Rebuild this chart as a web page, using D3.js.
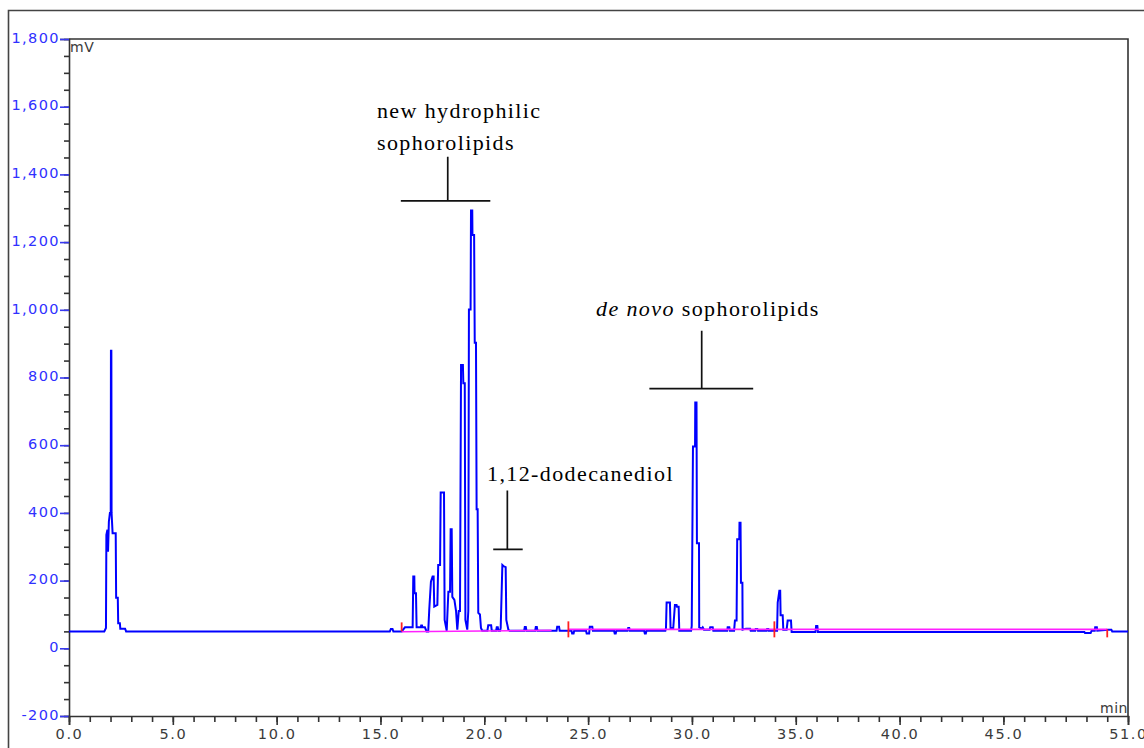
<!DOCTYPE html>
<html>
<head>
<meta charset="utf-8">
<script src="https://cdn.jsdelivr.net/npm/d3@7"></script>
<style>
  html, body { margin: 0; padding: 0; background: #fff; }
  svg { display: block; }
</style>
</head>
<body>
<svg id="chart" width="1144" height="748"></svg>
<script>
// chromatogram trace: [time (min), signal (mV)]
const trace = [
  [0, 50], [1.70, 50], [1.78, 60], [1.80, 335], [1.85, 350], [1.88, 285], [1.92, 374], [1.97, 400],
  [2.01, 400], [2.02, 879], [2.04, 879], [2.05, 400], [2.10, 340], [2.25, 340], [2.27, 149], [2.35, 149],
  [2.37, 74], [2.45, 74], [2.47, 58], [2.70, 58], [2.75, 50],
  [15.45, 50], [15.50, 57], [15.58, 57], [15.62, 50],
  [16.02, 50], [16.18, 62], [16.55, 62], [16.58, 212], [16.63, 212], [16.64, 163], [16.71, 163], [16.74, 62],
  [16.94, 62], [16.96, 67], [17.00, 67], [17.02, 62], [17.14, 62], [17.22, 50], [17.30, 50], [17.35, 115],
  [17.43, 197], [17.51, 212], [17.56, 212], [17.59, 123], [17.74, 128], [17.78, 246], [17.87, 246],
  [17.90, 460], [18.06, 460], [18.09, 84], [18.19, 52], [18.27, 167], [18.35, 167], [18.38, 352],
  [18.43, 352], [18.46, 152], [18.56, 143], [18.64, 110], [18.70, 55], [18.77, 110], [18.83, 110],
  [18.88, 837], [18.97, 837], [18.99, 783], [19.06, 783], [19.09, 84], [19.18, 55], [19.23, 110],
  [19.26, 1001], [19.34, 1001], [19.36, 1293], [19.42, 1293], [19.43, 1221], [19.51, 1221], [19.54, 903],
  [19.60, 903], [19.63, 411], [19.68, 411], [19.71, 105], [19.79, 100], [19.84, 60], [19.90, 52],
  [20.15, 52], [20.19, 68], [20.33, 68], [20.36, 52], [20.57, 52], [20.60, 62], [20.65, 62], [20.68, 52],
  [20.76, 52], [20.79, 60], [20.87, 246], [20.92, 243], [21.03, 240], [21.06, 84], [21.16, 55], [21.22, 52],
  [21.92, 52], [21.95, 63], [22.00, 63], [22.03, 52], [22.45, 52], [22.48, 63], [22.53, 63], [22.56, 52],
  [23.48, 52], [23.51, 64], [23.60, 64], [23.63, 52],
  [24.20, 52], [24.23, 44], [24.30, 44], [24.33, 52], [24.90, 52], [24.93, 44], [25.05, 44], [25.08, 64],
  [25.20, 64], [25.23, 52], [26.25, 52], [26.28, 44], [26.33, 44], [26.36, 52], [26.90, 52], [26.93, 60],
  [26.98, 60], [27.01, 52], [27.70, 52], [27.73, 44], [27.78, 44], [27.81, 52],
  [28.72, 52], [28.75, 60], [28.78, 135], [28.94, 135], [28.97, 60], [29.10, 60], [29.18, 128], [29.26, 128],
  [29.28, 123], [29.36, 123], [29.39, 52], [29.96, 52], [29.99, 66], [30.05, 596], [30.15, 596],
  [30.16, 726], [30.22, 726], [30.24, 310], [30.34, 310], [30.35, 62], [30.47, 58], [30.52, 62], [30.58, 55],
  [30.85, 55], [30.88, 62], [31.00, 62], [31.03, 52], [31.70, 52], [31.72, 62], [31.80, 62], [31.83, 52],
  [32.03, 52], [32.07, 82], [32.15, 82], [32.18, 322], [32.28, 322], [32.29, 371], [32.34, 371],
  [32.36, 194], [32.43, 194], [32.44, 55], [32.60, 58], [32.80, 58], [32.83, 52], [33.05, 52], [33.07, 57],
  [33.15, 57], [33.18, 52], [33.60, 52], [33.62, 57], [33.68, 57], [33.70, 52],
  [34.10, 52], [34.13, 135], [34.21, 170], [34.25, 170], [34.27, 98], [34.37, 98], [34.40, 55], [34.56, 55],
  [34.61, 82], [34.77, 82], [34.80, 48], [35.95, 48], [35.98, 66], [36.04, 66], [36.07, 48],
  [48.90, 48], [48.93, 45], [49.20, 45], [49.25, 52], [49.40, 52], [49.42, 62], [49.50, 62], [49.52, 52],
  [50.04, 55], [50.20, 55], [50.24, 50], [51, 50]
];

// integration baselines: [start time, start mV, end time, end mV]
const baselines = [
  [16.02, 49, 23.24, 53],
  [24.05, 56, 33.97, 56],
  [33.97, 56, 50.00, 56]
];

// peak event markers: [time, mV, kind]
const events = [
  [16.02, 50, "up"],
  [24.05, 56, "cross"],
  [33.97, 56, "cross"],
  [50.00, 56, "down"]
];

const xMajor = [0, 5, 10, 15, 20, 25, 30, 35, 40, 45, 51];
const xMinor = d3.range(0, 52, 1);
const yMajor = [-200, 0, 200, 400, 600, 800, 1000, 1200, 1400, 1600, 1800];
const yMinor = d3.range(-200, 1801, 50);

// annotations in data units
const labels = [
  { text: [["new hydrophilic", false]], t: 14.83, v: 1567 },
  { text: [["sophorolipids", false]], t: 14.83, v: 1472 },
  { text: [["1,12-dodecanediol", false]], t: 20.13, v: 494 },
  { text: [["de novo", true], [" sophorolipids", false]], t: 25.38, v: 983 }
];
// brackets: [left time, right time, stem time, bar mV, stem top mV]
const brackets = [
  [15.98, 20.29, 18.24, 1322, 1452],
  [20.43, 21.85, 21.11, 292, 466],
  [27.95, 32.95, 30.47, 767, 938]
];

const svg = d3.select("#chart");
const margin = { left: 69, top: 39, right: 16, bottom: 32 };
const width = 1144;
const height = 748;

const x = d3.scaleLinear().domain([0, 51]).range([margin.left, width - margin.right]);
const y = d3.scaleLinear().domain([-200, 1800]).range([height - margin.bottom, margin.top]);

const axisColor = "#333";
const sansFont = "'DejaVu Sans', sans-serif";
const serifFont = "'Liberation Serif', 'Times New Roman', serif";

// outer frame
svg.append("path")
  .attr("d", `M8.5,${height} V10.5 H${width}`)
  .attr("fill", "none")
  .attr("stroke", "#444")
  .attr("stroke-width", 1.6);

// plot frame top and right
svg.append("path")
  .attr("d", `M${x(0)},${y(1800)} H${x(51)} V${y(-200)}`)
  .attr("fill", "none")
  .attr("stroke", axisColor)
  .attr("stroke-width", 1.6);

// minor ticks
svg.append("g")
  .attr("transform", `translate(${x(0)},0)`)
  .call(d3.axisLeft(y).tickValues(yMinor).tickSize(5).tickFormat(""))
  .call((g) => g.select(".domain").remove())
  .call((g) => g.selectAll("line").attr("stroke", axisColor).attr("stroke-width", 1.6));

svg.append("g")
  .attr("transform", `translate(0,${y(-200)})`)
  .call(d3.axisBottom(x).tickValues(xMinor).tickSize(6).tickFormat(""))
  .call((g) => g.select(".domain").remove())
  .call((g) => g.selectAll("line").attr("stroke", axisColor).attr("stroke-width", 1.6));

// major y axis
const yAxis = svg.append("g")
  .attr("transform", `translate(${x(0)},0)`)
  .call(d3.axisLeft(y)
    .tickValues(yMajor)
    .tickSize(9)
    .tickPadding(0)
    .tickFormat((d) => d3.format(",")(d).replace("\u2212", "-")));
yAxis.select(".domain").attr("stroke", axisColor).attr("stroke-width", 1.6);
yAxis.selectAll("line").attr("stroke", "#3838f0").attr("stroke-width", 1.6);
yAxis.selectAll("text")
  .attr("fill", "#3030ff")
  .attr("font-family", sansFont)
  .attr("font-size", 14.5)
  .attr("letter-spacing", 1.4)
  .attr("dy", "0.22em");

// major x axis
const xAxis = svg.append("g")
  .attr("transform", `translate(0,${y(-200)})`)
  .call(d3.axisBottom(x).tickValues(xMajor).tickSize(9).tickPadding(4).tickFormat(d3.format(".1f")));
xAxis.select(".domain").attr("stroke", axisColor).attr("stroke-width", 1.6);
xAxis.selectAll("line").attr("stroke", axisColor).attr("stroke-width", 1.6);
xAxis.selectAll("text")
  .attr("fill", "#3a3a3a")
  .attr("font-family", sansFont)
  .attr("font-size", 14.5)
  .attr("letter-spacing", 1.6);

// units
svg.append("text")
  .attr("x", x(0) + 1)
  .attr("y", y(1800) + 13)
  .attr("font-family", sansFont)
  .attr("font-size", 14)
  .attr("letter-spacing", 0.5)
  .attr("fill", "#3a3a3a")
  .text("mV");

svg.append("text")
  .attr("x", x(51))
  .attr("y", y(-200) - 3)
  .attr("text-anchor", "end")
  .attr("font-family", sansFont)
  .attr("font-size", 14)
  .attr("letter-spacing", 0.5)
  .attr("fill", "#3a3a3a")
  .text("min");

// trace
const line = d3.line()
  .x((d) => x(d[0]))
  .y((d) => y(d[1]));

svg.append("path")
  .datum(trace)
  .attr("d", line)
  .attr("fill", "none")
  .attr("stroke", "#0000ff")
  .attr("stroke-width", 2)
  .attr("stroke-linejoin", "miter");

// integration baselines
svg.append("g")
  .selectAll("line")
  .data(baselines)
  .enter()
  .append("line")
  .attr("x1", (d) => x(d[0]))
  .attr("y1", (d) => y(d[1]))
  .attr("x2", (d) => x(d[2]))
  .attr("y2", (d) => y(d[3]))
  .attr("stroke", "#ff20ff")
  .attr("stroke-width", 1.6);

svg.append("g")
  .selectAll("line")
  .data(events)
  .enter()
  .append("line")
  .attr("x1", (d) => x(d[0]))
  .attr("x2", (d) => x(d[0]))
  .attr("y1", (d) => y(d[1]) + (d[2] === "up" ? -9 : d[2] === "down" ? 0 : -8))
  .attr("y2", (d) => y(d[1]) + (d[2] === "up" ? 0 : 8))
  .attr("stroke", "#ff2020")
  .attr("stroke-width", 1.8);

// annotations
const ann = svg.append("g")
  .attr("font-family", serifFont)
  .attr("font-size", 22)
  .attr("letter-spacing", 1.4)
  .attr("fill", "#000");

labels.forEach((l) => {
  const t = ann.append("text")
    .attr("x", x(l.t))
    .attr("y", y(l.v));
  l.text.forEach((part) => {
    t.append("tspan")
      .attr("font-style", part[1] ? "italic" : "normal")
      .text(part[0]);
  });
});

const br = svg.append("g")
  .attr("stroke", "#111")
  .attr("stroke-width", 1.7)
  .attr("fill", "none");

br.selectAll("path")
  .data(brackets)
  .enter()
  .append("path")
  .attr("d", (d) => `M${x(d[0])},${y(d[3])} H${x(d[1])} M${x(d[2])},${y(d[3])} V${y(d[4])}`);
</script>
</body>
</html>
